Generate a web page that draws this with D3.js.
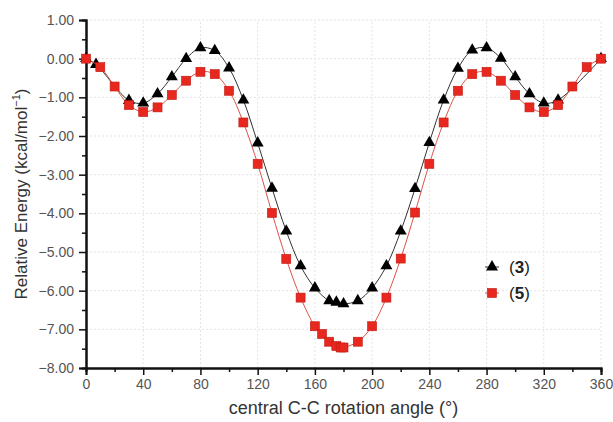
<!DOCTYPE html>
<html>
<head>
<meta charset="utf-8">
<script src="https://cdn.jsdelivr.net/npm/d3@7"></script>
<style>
  body { margin: 0; background: #fff; }
  text { font-family: Arial, "Liberation Sans", sans-serif; }
</style>
</head>
<body>
<div class="plots"></div>
<script>
// series (3): triangles
var angles3 = [0, 7, 30, 40, 50, 60, 70, 80, 90, 100, 110, 120, 130, 140, 150, 160, 170, 175, 180,
               190, 200, 210, 220, 230, 240, 250, 260, 270, 280, 290, 300, 310, 320, 330, 360];
var energy3 = [0, -0.15, -1.08, -1.15, -0.91, -0.47, 0.00, 0.28, 0.21, -0.24, -1.07, -2.18, -3.35, -4.46, -5.36, -5.93, -6.26, -6.30, -6.34,
               -6.26, -5.93, -5.36, -4.46, -3.36, -2.17, -1.07, -0.25, 0.22, 0.28, 0.01, -0.47, -0.91, -1.15, -1.07, 0];
// series (5): squares
var angles5 = [0, 10, 20, 30, 40, 50, 60, 70, 80, 90, 100, 110, 120, 130, 140, 150, 160, 165, 170, 175, 178, 180,
               190, 200, 210, 220, 230, 240, 250, 260, 270, 280, 290, 300, 310, 320, 330, 340, 350, 360];
var energy5 = [0, -0.22, -0.72, -1.20, -1.38, -1.26, -0.94, -0.57, -0.34, -0.40, -0.83, -1.65, -2.72, -3.99, -5.18, -6.18, -6.92, -7.12, -7.32, -7.43, -7.47, -7.47,
               -7.32, -6.92, -6.18, -5.17, -3.98, -2.72, -1.65, -0.83, -0.40, -0.34, -0.57, -0.94, -1.26, -1.38, -1.20, -0.72, -0.22, 0.00];

var xTicks = [0, 40, 80, 120, 160, 200, 240, 280, 320, 360];
var yTicks = [1, 0, -1, -2, -3, -4, -5, -6, -7, -8];
var legendLabels = ["3", "5"];

var width = 613, height = 422;
var margin = {top: 20, right: 12, bottom: 54, left: 86};

var svg = d3.select(".plots").append("svg")
    .attr("width", width)
    .attr("height", height);

var x = d3.scaleLinear().domain([0, 360]).range([margin.left, width - margin.right]);
var y = d3.scaleLinear().domain([-8, 1]).range([height - margin.bottom, margin.top]);

var s3 = angles3.map(function(a, i) { return {a: a, e: energy3[i]}; });
var s5 = angles5.map(function(a, i) { return {a: a, e: energy5[i]}; });

// faint dotted grid
svg.append("g").selectAll("line").data(xTicks.slice(1))
  .enter().append("line")
    .attr("x1", function(d) { return x(d); }).attr("x2", function(d) { return x(d); })
    .attr("y1", y(-8)).attr("y2", y(1))
    .attr("stroke", "#e4e4e4").attr("stroke-dasharray", "2,2");
svg.append("g").selectAll("line").data(yTicks.slice(0, -1))
  .enter().append("line")
    .attr("x1", x(0)).attr("x2", x(360))
    .attr("y1", function(d) { return y(d); }).attr("y2", function(d) { return y(d); })
    .attr("stroke", "#e4e4e4").attr("stroke-dasharray", "2,2");

// axes
svg.append("g")
    .attr("transform", "translate(0," + y(-8) + ")")
    .call(d3.axisBottom(x).tickValues(xTicks).tickSize(7).tickPadding(4).tickFormat(d3.format("d")));
svg.append("g")
    .attr("transform", "translate(0," + y(-8) + ")")
    .call(d3.axisBottom(x).tickValues(d3.range(20, 360, 40)).tickSize(4).tickFormat(""));

svg.append("g")
    .attr("transform", "translate(" + x(0) + ",0)")
    .call(d3.axisLeft(y).tickValues(yTicks).tickSize(7).tickPadding(5).tickFormat(d3.format(".2f")));
svg.append("g")
    .attr("transform", "translate(" + x(0) + ",0)")
    .call(d3.axisLeft(y).tickValues(d3.range(-7.5, 1, 1)).tickSize(4).tickFormat(""));

svg.selectAll(".domain").attr("stroke", "#111").attr("stroke-width", 2);
svg.selectAll(".tick line").attr("stroke", "#111").attr("stroke-width", 1.5);
svg.selectAll(".tick text").attr("fill", "#555").style("font-size", "14px");

// axis titles
svg.append("text")
    .attr("x", (x(0) + x(360)) / 2)
    .attr("y", 414)
    .attr("text-anchor", "middle")
    .attr("fill", "#333")
    .style("font-size", "18px")
    .text("central C-C rotation angle (°)");

var yl = svg.append("text")
    .attr("transform", "translate(27," + ((y(1) + y(-8)) / 2) + ") rotate(-90)")
    .attr("text-anchor", "middle")
    .attr("fill", "#333")
    .style("font-size", "17px");
yl.append("tspan").text("Relative Energy (kcal/mol");
yl.append("tspan").attr("dy", -7).style("font-size", "11px").text("−1");
yl.append("tspan").attr("dy", 7).text(")");

// lines
var line = d3.line()
    .x(function(d) { return x(d.a); })
    .y(function(d) { return y(d.e); })
    .curve(d3.curveCatmullRom);

svg.append("path").datum(s3)
    .attr("fill", "none").attr("stroke", "#333").attr("stroke-width", 1)
    .attr("d", line);

var tri = d3.symbol().type(d3.symbolTriangle).size(62);
svg.append("g").selectAll("path").data(s3)
  .enter().append("path")
    .attr("transform", function(d) { return "translate(" + x(d.a) + "," + y(d.e) + ")"; })
    .attr("d", tri)
    .attr("fill", "#000");

svg.append("path").datum(s5)
    .attr("fill", "none").attr("stroke", "#d9534a").attr("stroke-width", 1)
    .attr("d", line);

svg.append("g").selectAll("rect").data(s5)
  .enter().append("rect")
    .attr("x", function(d) { return x(d.a) - 4.5; })
    .attr("y", function(d) { return y(d.e) - 4.5; })
    .attr("width", 9).attr("height", 9)
    .attr("fill", "#e8281f")
    .attr("stroke", "#c01810").attr("stroke-width", 0.6);

// legend
var lg = svg.append("g").attr("transform", "translate(492,267)");
legendLabels.forEach(function(lab, i) {
  var g = lg.append("g").attr("transform", "translate(0," + (i * 26) + ")");
  g.append("line").attr("x1", -7).attr("x2", 7)
    .attr("stroke", i === 0 ? "#333" : "#d9534a").attr("stroke-width", 1);
  if (i === 0) {
    g.append("path").attr("d", tri).attr("fill", "#000");
  } else {
    g.append("rect").attr("x", -4.5).attr("y", -4.5).attr("width", 9).attr("height", 9)
      .attr("fill", "#e8281f").attr("stroke", "#c01810").attr("stroke-width", 0.6);
  }
  var t = g.append("text").attr("x", 17).attr("y", 6)
    .attr("fill", "#222").style("font-size", "17px");
  t.append("tspan").text("(");
  t.append("tspan").attr("font-weight", "bold").text(lab);
  t.append("tspan").text(")");
});
</script>
</body>
</html>
